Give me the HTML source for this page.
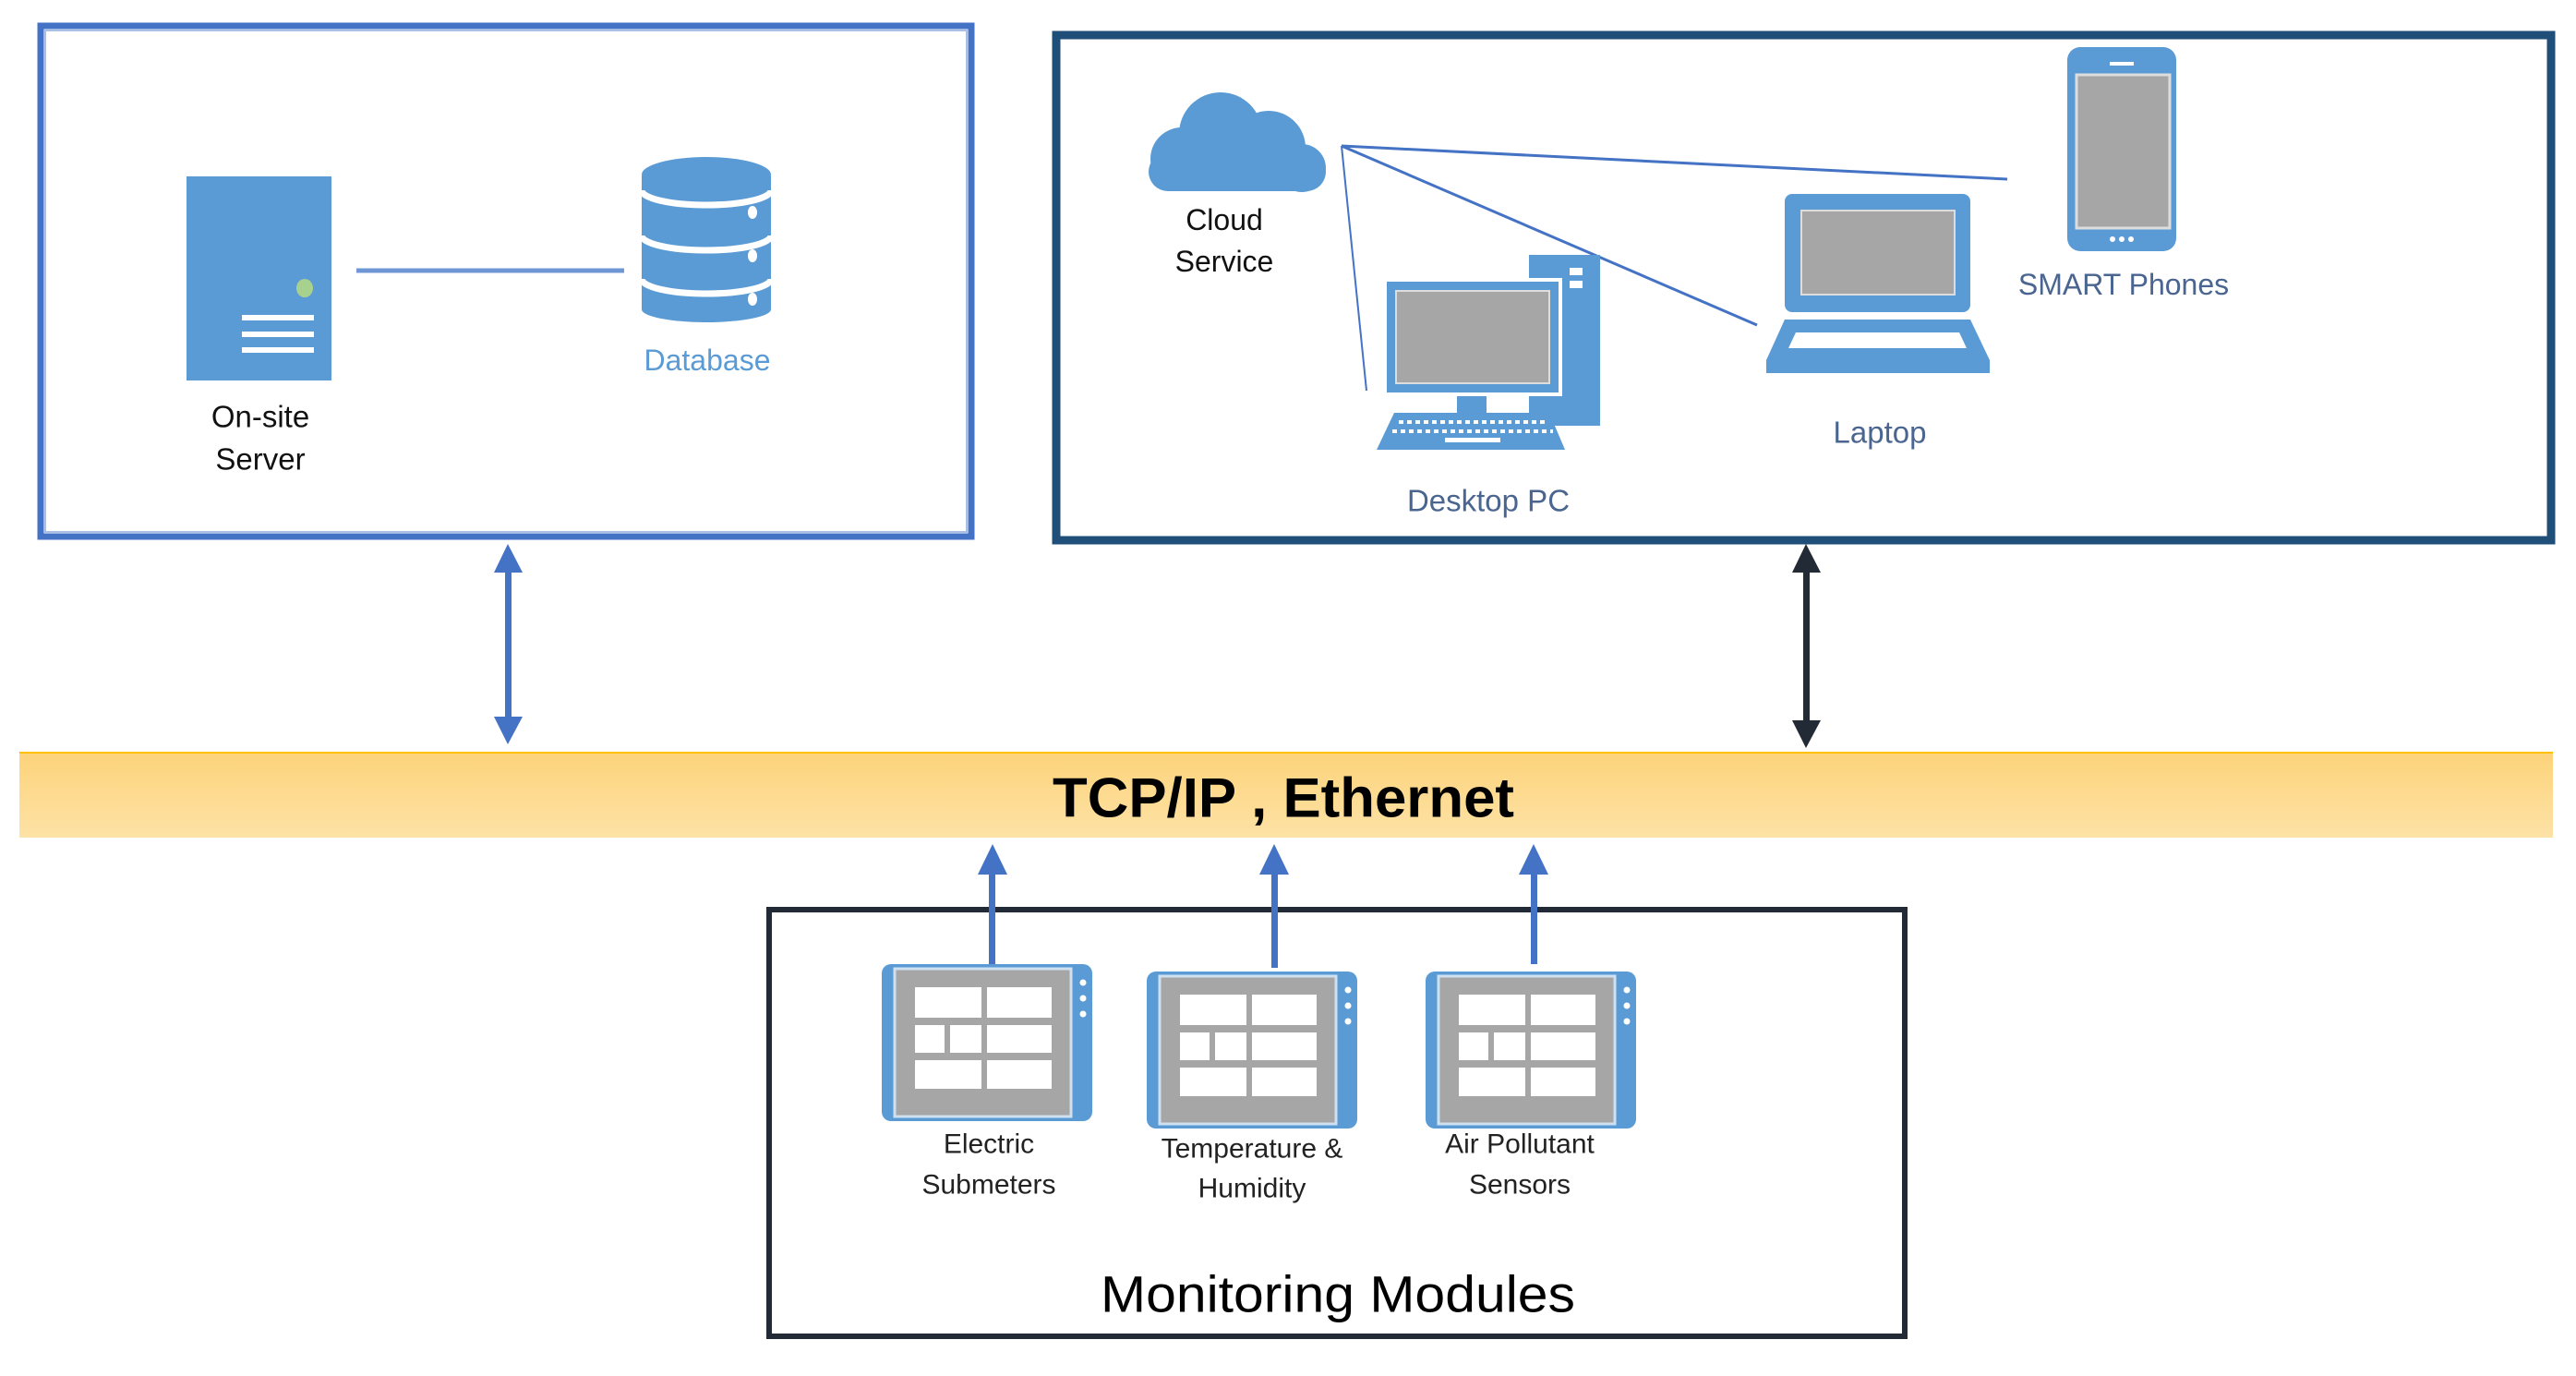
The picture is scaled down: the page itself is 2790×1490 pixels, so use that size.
<!DOCTYPE html>
<html><head><meta charset="utf-8"><style>html,body{margin:0;padding:0;background:#fff}svg{display:block}</style></head>
<body>
<svg width="2790" height="1490" viewBox="0 0 2790 1490" xmlns="http://www.w3.org/2000/svg" font-family="'Liberation Sans', sans-serif">
<defs>
<linearGradient id="bar" x1="0" y1="0" x2="0" y2="1">
<stop offset="0" stop-color="#fdd37a"/><stop offset="1" stop-color="#fde2a6"/></linearGradient>
<g id="dev">
<rect x="0" y="0" width="228" height="170" rx="10" fill="#5b9bd5"/>
<rect x="14" y="5" width="191" height="160" fill="#a6a6a6" stroke="#cfe0f1" stroke-width="3"/>
<g fill="#fff">
<rect x="36" y="25" width="72" height="33"/><rect x="114" y="25" width="70" height="33"/>
<rect x="36" y="66" width="32" height="30"/><rect x="74" y="66" width="34" height="30"/><rect x="114" y="66" width="70" height="30"/>
<rect x="36" y="104" width="72" height="31"/><rect x="114" y="104" width="70" height="31"/>
<circle cx="218" cy="20" r="3.5"/><circle cx="218" cy="37" r="3.5"/><circle cx="218" cy="54" r="3.5"/>
</g>
</g>
</defs>

<!-- Left box -->
<rect x="44" y="28" width="1008" height="553" fill="none" stroke="#4472c4" stroke-width="7"/>
<rect x="49" y="33" width="998" height="543" fill="none" stroke="#a9c0e6" stroke-width="2"/>
<!-- server -->
<rect x="202" y="191" width="157" height="221" fill="#5b9bd5"/>
<ellipse cx="330" cy="312" rx="9" ry="10" fill="#a9d18e"/>
<g stroke="#fff" stroke-width="6"><line x1="262" y1="344" x2="340" y2="344"/><line x1="262" y1="362" x2="340" y2="362"/><line x1="262" y1="379" x2="340" y2="379"/></g>
<text x="282" y="451" font-size="33" text-anchor="middle" dominant-baseline="central" fill="#111">On-site</text>
<text x="282" y="497" font-size="33" text-anchor="middle" dominant-baseline="central" fill="#111">Server</text>
<line x1="386" y1="293" x2="676" y2="293" stroke="#6f97d6" stroke-width="5"/>
<!-- database -->
<path d="M695 190 L695 335 A70 14 0 0 0 835 335 L835 190 Z" fill="#5b9bd5"/>
<ellipse cx="765" cy="189" rx="70" ry="19" fill="#5b9bd5"/>
<g fill="none" stroke="#fff" stroke-width="7">
<path d="M695 206 A70 16 0 0 0 835 206"/><path d="M695 255 A70 16 0 0 0 835 255"/><path d="M695 302 A70 16 0 0 0 835 302"/></g>
<g fill="#fff"><ellipse cx="815" cy="230" rx="5" ry="7"/><ellipse cx="815" cy="277" rx="5" ry="7"/><ellipse cx="815" cy="324" rx="5" ry="7"/></g>
<text x="766" y="390" font-size="32" text-anchor="middle" dominant-baseline="central" fill="#5b9bd5">Database</text>

<!-- Right box -->
<rect x="1144" y="38" width="1619" height="547" fill="none" stroke="#1f4e79" stroke-width="9"/>
<!-- cloud -->
<g fill="#5b9bd5">
<circle cx="1322" cy="145" r="45"/><circle cx="1374" cy="160" r="40"/><circle cx="1280" cy="172" r="34"/><circle cx="1410" cy="182" r="26"/>
<rect x="1244" y="165" width="192" height="42" rx="21"/></g>
<text x="1326" y="238" font-size="32" text-anchor="middle" dominant-baseline="central" fill="#111">Cloud</text>
<text x="1326" y="283" font-size="32" text-anchor="middle" dominant-baseline="central" fill="#111">Service</text>
<g stroke="#4472c4" fill="none">
<line x1="1453" y1="158" x2="2174" y2="194" stroke-width="3"/>
<line x1="1453" y1="158" x2="1903" y2="352" stroke-width="3"/>
<line x1="1453" y1="158" x2="1480" y2="423" stroke-width="2"/></g>
<!-- desktop -->
<rect x="1656" y="276" width="77" height="185" fill="#5b9bd5"/>
<rect x="1700" y="290" width="14" height="8" fill="#fff"/><rect x="1700" y="304" width="14" height="8" fill="#fff"/>
<rect x="1500" y="303" width="190" height="124" fill="#5b9bd5" stroke="#fff" stroke-width="4"/>
<rect x="1512" y="315" width="166" height="100" fill="#a6a6a6" stroke="#ddd" stroke-width="2"/>
<rect x="1578" y="429" width="32" height="18" fill="#5b9bd5"/>
<path d="M1510 447 L1678 447 L1695 487 L1491 487 Z" fill="#5b9bd5"/>
<g stroke="#fff" stroke-width="4" stroke-dasharray="5 4"><line x1="1515" y1="457" x2="1675" y2="457"/><line x1="1508" y1="467" x2="1682" y2="467"/></g>
<rect x="1565" y="474" width="60" height="5" fill="#fff"/>
<text x="1612" y="542" font-size="33" text-anchor="middle" dominant-baseline="central" fill="#4a6590">Desktop PC</text>
<!-- laptop -->
<rect x="1933" y="210" width="201" height="128" rx="8" fill="#5b9bd5"/>
<rect x="1951" y="228" width="166" height="91" fill="#a6a6a6" stroke="#ddd" stroke-width="2"/>
<path d="M1933 346 L2134 346 L2155 390 L2155 404 L1913 404 L1913 390 Z" fill="#5b9bd5"/>
<path d="M1945 360 L2122 360 L2130 377 L1937 377 Z" fill="#fff"/>
<text x="2036" y="468" font-size="33" text-anchor="middle" dominant-baseline="central" fill="#4a6590">Laptop</text>
<!-- phone -->
<rect x="2239" y="51" width="118" height="221" rx="14" fill="#5b9bd5"/>
<rect x="2249" y="81" width="101" height="166" fill="#a6a6a6" stroke="#ddd" stroke-width="3"/>
<rect x="2285" y="67" width="26" height="4" fill="#fff"/>
<g fill="#fff"><circle cx="2288" cy="259" r="3"/><circle cx="2298" cy="259" r="3"/><circle cx="2308" cy="259" r="3"/></g>
<text x="2300" y="308" font-size="32" text-anchor="middle" dominant-baseline="central" fill="#4a6590">SMART Phones</text>

<!-- vertical double arrows -->
<g fill="#4472c4"><rect x="547" y="612" width="7" height="172"/><polygon points="550,589 535,620 566,620"/><polygon points="550,806 535,776 566,776"/></g>
<g fill="#222a35"><rect x="1953" y="612" width="7" height="172"/><polygon points="1956,589 1941,620 1972,620"/><polygon points="1956,810 1941,780 1972,780"/></g>

<!-- TCP bar -->
<rect x="21" y="814" width="2744" height="93" fill="url(#bar)"/>
<line x1="21" y1="815" x2="2765" y2="815" stroke="#ffc000" stroke-width="2"/>
<text x="1390" y="864" font-size="60" font-weight="bold" text-anchor="middle" dominant-baseline="central" fill="#000" textLength="500" lengthAdjust="spacingAndGlyphs">TCP/IP ,  Ethernet</text>

<!-- Monitoring box -->
<rect x="833" y="985" width="1230" height="462" fill="none" stroke="#222a35" stroke-width="6"/>
<!-- up arrows -->
<g fill="#4472c4">
<rect x="1071" y="940" width="7" height="104"/><polygon points="1075,914 1059,947 1091,947"/>
<rect x="1377" y="940" width="7" height="108"/><polygon points="1380,914 1364,947 1396,947"/>
<rect x="1658" y="940" width="7" height="104"/><polygon points="1661,914 1645,947 1677,947"/>
</g>
<use href="#dev" x="955" y="1044"/>
<use href="#dev" x="1242" y="1052"/>
<use href="#dev" x="1544" y="1052"/>
<g font-size="30" text-anchor="middle" dominant-baseline="central" fill="#222">
<text x="1071" y="1239">Electric</text><text x="1071" y="1283">Submeters</text>
<text x="1356" y="1244">Temperature &amp;</text><text x="1356" y="1287">Humidity</text>
<text x="1646" y="1239">Air Pollutant</text><text x="1646" y="1283">Sensors</text>
</g>
<text x="1449" y="1401" font-size="56" text-anchor="middle" dominant-baseline="central" fill="#000" textLength="514" lengthAdjust="spacingAndGlyphs">Monitoring Modules</text>
</svg>
</body></html>
